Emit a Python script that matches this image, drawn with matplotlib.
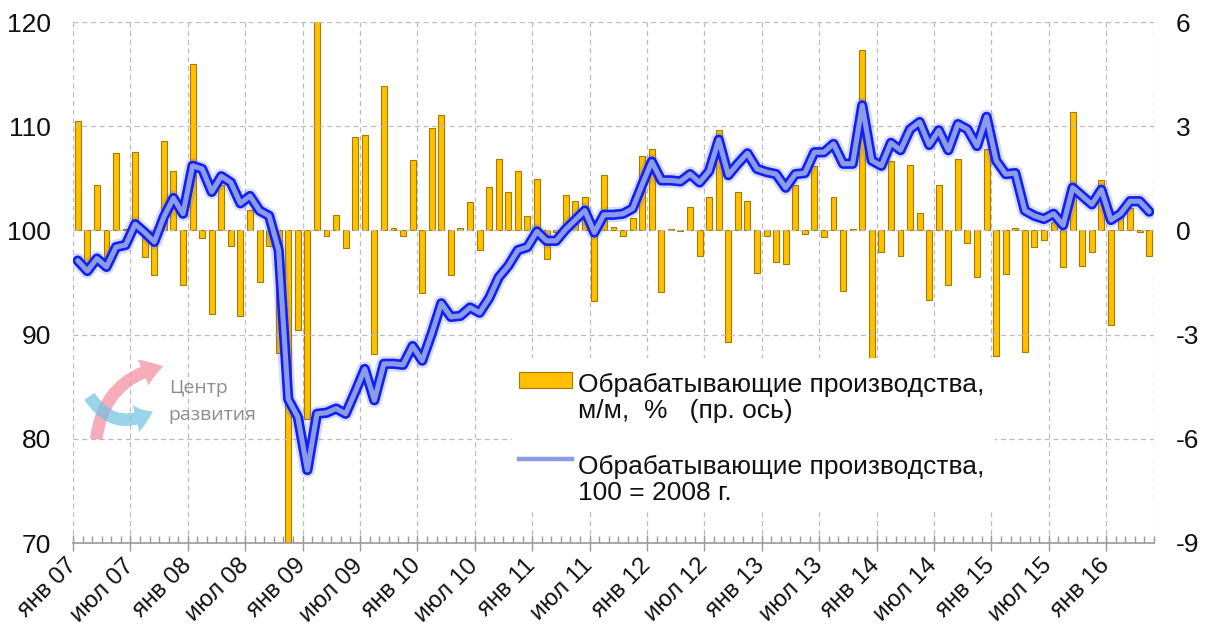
import matplotlib
matplotlib.use("Agg")
import matplotlib.pyplot as plt
from matplotlib.patches import Rectangle, FancyArrowPatch
from matplotlib.lines import Line2D
from matplotlib.transforms import ScaledTranslation
import numpy as np

plt.rcParams['font.family'] = ['Liberation Sans', 'DejaVu Sans']
plt.rcParams['axes.unicode_minus'] = False

# Month-on-month change, % (right axis), Jan 2007 .. May 2016
mom_change = [3.15, -1.0, 1.32, -0.95, 2.22, 0.05, 2.27, -0.77, -1.29, 2.57, 1.72, -1.56,
              4.79, -0.22, -2.41, 1.32, -0.45, -2.46, 0.6, -1.49, -0.45, -3.52, -10.5, -2.86,
              -5.42, 6.6, -0.15, 0.45, -0.52, 2.70, 2.74, -3.57, 4.15, 0.07, -0.15, 2.04,
              -1.79, 2.94, 3.33, -1.29, 0.07, 0.82, -0.57, 1.26, 2.07, 1.11, 1.71, 0.41,
              1.48, -0.82, -0.05, 1.03, 0.86, 0.96, -2.04, 1.59, 0.11, -0.15, 0.35, 2.14,
              2.34, -1.76, 0.03, -0.03, 0.66, -0.75, 0.96, 2.90, -3.20, 1.11, 0.85, -1.23,
              -0.15, -0.90, -0.97, 1.32, -0.09, 1.84, -0.19, 0.96, -1.74, 0.03, 5.18, -4.2,
              -0.62, 2.01, -0.75, 1.89, 0.51, -2.01, 1.32, -1.56, 2.07, -0.35, -1.34, 2.34,
              -3.63, -1.26, 0.08, -3.50, -0.49, -0.27, 0.23, -1.05, 3.41, -1.02, -0.62, 1.45,
              -2.71, 0.55, 0.65, -0.05, -0.75]

# Output index, 100 = 2008 (left axis)
index_2008 = [97.1, 96.1, 97.3, 96.5, 98.4, 98.6, 100.6, 99.8, 98.9, 101.3, 103.1, 101.6,
              106.2, 105.9, 103.7, 105.2, 104.6, 102.6, 103.3, 101.9, 101.4, 98.1, 83.8, 82.1,
              77.0, 82.4, 82.5, 82.9, 82.4, 84.5, 86.7, 83.7, 87.2, 87.2, 87.1, 88.9,
              87.5, 90.1, 93.0, 91.7, 91.8, 92.6, 92.1, 93.5, 95.5, 96.6, 98.1, 98.4,
              99.9, 99.0, 99.0, 100.1, 101.0, 101.9, 99.8, 101.5, 101.5, 101.6, 102.1, 104.4,
              106.6, 104.8, 104.8, 104.7, 105.4, 104.6, 105.7, 108.7, 105.3, 106.4, 107.4, 105.9,
              105.6, 105.4, 104.1, 105.4, 105.5, 107.5, 107.5, 108.3, 106.4, 106.4, 112.0, 106.7,
              106.2, 108.4, 107.7, 109.7, 110.4, 108.2, 109.6, 107.7, 110.2, 109.7, 108.1, 110.9,
              106.7, 105.4, 105.5, 101.9, 101.4, 101.1, 101.6, 100.5, 104.1, 103.3, 102.5, 103.9,
              101.0, 101.6, 102.8, 102.8, 101.8]

half_year_labels = ['янв 07', 'июл 07', 'янв 08', 'июл 08', 'янв 09', 'июл 09',
                    'янв 10', 'июл 10', 'янв 11', 'июл 11', 'янв 12', 'июл 12',
                    'янв 13', 'июл 13', 'янв 14', 'июл 14', 'янв 15', 'июл 15', 'янв 16']

bar_label = 'Обрабатывающие производства,\nм/м,  %   (пр. ось)'
line_label = 'Обрабатывающие производства,\n100 = 2008 г.'

BAR_FACE, BAR_EDGE = '#FFC000', '#A67C00'
LINE_EDGE, LINE_FILL = '#1020F5', '#8C9BE6'
FS = 19
FS_X = 17.5

W, H = 1211, 640
fig = plt.figure(figsize=(W / 100, H / 100), dpi=100)
L, R, T, B = 73, 1154, 22, 543
ax = fig.add_axes([L / W, 1 - B / H, (R - L) / W, (B - T) / H])
ax2 = ax.twinx()

n = len(mom_change)
x = np.arange(n)
grid_c = '#BDBDBD'

# Bars on the base axes, values on the right
ax.bar(x, mom_change, width=0.62, color=BAR_FACE, edgecolor=BAR_EDGE, linewidth=0.8, zorder=2)
ax.set_ylim(-9, 6)
ax.set_yticks(np.arange(-9, 7, 3))
ax.yaxis.tick_right()
ax.set_xlim(-0.5, n - 0.5)

# Index line on the twin axes, values on the left
style = dict(solid_joinstyle='round', solid_capstyle='round')
ax2.plot(x, index_2008, color='#5060F0', lw=11, alpha=0.22, zorder=3, **style)
ax2.plot(x, index_2008, color=LINE_EDGE, lw=7.4, zorder=4, **style)
ax2.plot(x, index_2008, color=LINE_FILL, lw=3.6, zorder=5, **style)
ax2.set_ylim(70, 120)
ax2.set_yticks(np.arange(70, 121, 10))
ax2.yaxis.tick_left()

# Grid: horizontal dashed at left ticks, vertical dashed at half-year ticks
for yv in np.arange(80, 121, 10):
    ax2.axhline(yv, color=grid_c, lw=0.9, ls=(0, (4, 3)), zorder=0)
major = np.arange(-0.5, n, 6)
for xv in major:
    ax.axvline(xv, color=grid_c, lw=0.9, ls=(0, (4, 3)), zorder=0)
ax.axvline(n - 0.5, color=grid_c, lw=0.9, ls=(0, (4, 3)), zorder=0)

for a in (ax, ax2):
    for s in a.spines.values():
        s.set_visible(False)
ax.spines['bottom'].set_visible(True)
ax.spines['bottom'].set_color('#9A9A9A')
ax.spines['bottom'].set_linewidth(1.2)

ax.set_xticks(major)
ax.set_xticks(np.arange(-0.5, n, 1), minor=True)
ax.set_xticklabels(half_year_labels, rotation=45, ha='right', va='center',
                   rotation_mode='anchor', fontsize=FS_X, color='#111111')
shift = ScaledTranslation(6 / 100, 0, fig.dpi_scale_trans)
for lab in ax.get_xticklabels():
    lab.set_transform(lab.get_transform() + shift)
ax.tick_params(axis='x', which='major', direction='inout', length=12, width=1, color='#9A9A9A', pad=8)
ax.tick_params(axis='x', which='minor', direction='in', length=5, width=1, color='#9A9A9A')
ax.tick_params(axis='y', length=0, pad=15.5, labelsize=FS, labelcolor='#111111')
ax2.tick_params(axis='y', length=0, pad=16, labelsize=FS, labelcolor='#111111')


def fx(px):
    return px / W


def fy(py):
    return 1 - py / H


# Legend block drawn in figure pixels, on a white background
legend_items = []
legend_items.append(Rectangle((fx(512), fy(510)), fx(995 - 512), (510 - 358) / H,
                              transform=fig.transFigure, facecolor='white', edgecolor='none',
                              zorder=20))
legend_items.append(Rectangle((fx(519), fy(388)), fx(572 - 519), 16 / H,
                              transform=fig.transFigure, facecolor=BAR_FACE, edgecolor=BAR_EDGE,
                              linewidth=0.8, zorder=21))
fig.patches.extend(legend_items)
fig.lines.append(Line2D([fx(519), fx(572)], [fy(459), fy(459)], transform=fig.transFigure,
                        color=LINE_FILL, lw=3.2, zorder=21))
fig.text(fx(578), fy(398), bar_label, fontsize=FS, color='#111111', ha='left', va='center',
         linespacing=1.15, zorder=22)
fig.text(fx(578), fy(480), line_label, fontsize=FS, color='#111111', ha='left', va='center',
         linespacing=1.15, zorder=22)

# Watermark logo
pink = FancyArrowPatch((fx(96), fy(442)), (fx(166), fy(366)), transform=fig.transFigure,
                       connectionstyle='arc3,rad=-0.38',
                       arrowstyle='simple,head_width=20,head_length=15,tail_width=9',
                       color='#F58A9C', alpha=0.7, lw=0)
blue = FancyArrowPatch((fx(88), fy(394)), (fx(155), fy(410)), transform=fig.transFigure,
                       connectionstyle='arc3,rad=0.5',
                       arrowstyle='simple,head_width=20,head_length=13,tail_width=9',
                       color='#6EC3E3', alpha=0.7, lw=0)
fig.patches.extend([pink, blue])
fig.text(fx(169), fy(388), 'Центр', fontsize=14, color='#8E8E8E', va='center', ha='left',
         family=['Open Sans', 'DejaVu Sans'])
fig.text(fx(168), fy(415), 'развития', fontsize=14, color='#8E8E8E', va='center', ha='left',
         family=['Open Sans', 'DejaVu Sans'])

fig.savefig('out.png', dpi=100)
